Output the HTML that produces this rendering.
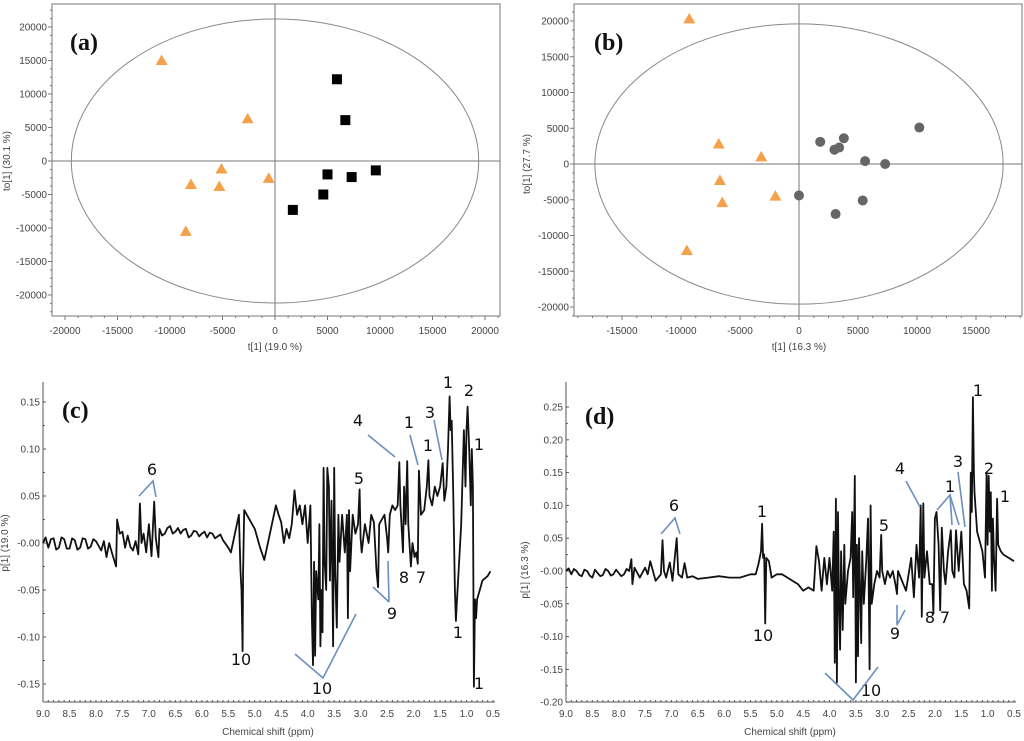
<!DOCTYPE html>
<html><head><meta charset="utf-8"><style>
html,body{margin:0;padding:0;background:#fff;}
svg{display:block;}
.tk{font-family:"Liberation Sans",sans-serif;font-size:10px;fill:#444;}
.ann{font-family:"DejaVu Sans","Liberation Sans",sans-serif;font-size:16px;fill:#111;}
.pl{font-family:"Liberation Serif",serif;font-size:24px;font-weight:bold;fill:#111;}
</style></head><body>
<svg id="fig" xmlns="http://www.w3.org/2000/svg" width="1024" height="741" viewBox="0 0 1024 741">
<g id="root"></g>
</svg>
<script>
// Panel a data
const aTriX=[-10800,-2600,-5100,-8000,-5300,-600,-8500];
const aTriY=[15000,6300,-1200,-3500,-3800,-2600,-10500];
const aSqX=[5900,6700,5000,7300,9600,4600,1700];
const aSqY=[12200,6100,-2000,-2400,-1400,-5000,-7300];
const aXTicks=[-20000,-15000,-10000,-5000,0,5000,10000,15000,20000];
const aYTicks=[20000,15000,10000,5000,0,-5000,-10000,-15000,-20000];
// Panel b data
const bTriX=[-9300,-6800,-3200,-6700,-6500,-2000,-9500];
const bTriY=[20300,2800,1000,-2300,-5400,-4500,-12100];
const bCirX=[1800,3000,3400,3800,10200,5600,7300,0,5400,3100];
const bCirY=[3100,2000,2300,3600,5100,400,0,-4400,-5100,-7000];
const bXTicks=[-15000,-10000,-5000,0,5000,10000,15000];
const bYTicks=[20000,15000,10000,5000,0,-5000,-10000,-15000,-20000];
// Panel c spectrum
const cPpm=[9.0,8.95,8.9,8.85,8.8,8.75,8.7,8.65,8.6,8.55,8.5,8.45,8.4,8.35,8.3,8.25,8.2,8.15,8.1,8.05,8.0,7.95,7.9,7.85,7.8,7.75,7.7,7.62,7.6,7.55,7.5,7.45,7.4,7.35,7.3,7.25,7.2,7.17,7.14,7.1,7.05,7.0,6.95,6.9,6.87,6.82,6.8,6.75,6.7,6.65,6.6,6.55,6.5,6.45,6.4,6.35,6.3,6.25,6.2,6.15,6.1,6.05,6.0,5.95,5.9,5.85,5.8,5.75,5.7,5.65,5.6,5.5,5.45,5.3,5.27,5.25,5.23,5.22,5.2,5.1,5.05,5.0,4.9,4.82,4.6,4.55,4.5,4.45,4.4,4.35,4.3,4.25,4.2,4.15,4.1,4.05,4.0,3.95,3.92,3.9,3.88,3.86,3.84,3.8,3.78,3.76,3.74,3.72,3.7,3.68,3.65,3.63,3.6,3.58,3.55,3.52,3.5,3.48,3.45,3.42,3.4,3.35,3.3,3.26,3.24,3.22,3.2,3.15,3.1,3.05,3.02,3.0,2.98,2.92,2.85,2.8,2.75,2.7,2.67,2.65,2.6,2.55,2.5,2.48,2.45,2.4,2.35,2.3,2.27,2.25,2.2,2.18,2.15,2.12,2.1,2.05,2.02,1.98,1.95,1.92,1.9,1.86,1.8,1.75,1.72,1.7,1.65,1.6,1.55,1.5,1.45,1.42,1.38,1.35,1.32,1.3,1.28,1.25,1.22,1.2,1.18,1.15,1.1,1.05,1.02,1.0,0.98,0.95,0.92,0.9,0.88,0.86,0.84,0.82,0.8,0.75,0.7,0.6,0.55];
const cVal=[0.0,0.006,-0.005,0.004,0.005,-0.007,-0.005,0.006,0.004,-0.006,-0.006,0.005,0.003,-0.007,-0.005,0.005,0.004,-0.006,-0.004,0.004,0.002,-0.003,-0.008,0.002,-0.015,0.0,-0.01,-0.025,0.025,0.01,0.012,-0.005,0.008,-0.004,-0.008,0.002,-0.012,0.042,0.0,0.01,-0.01,0.02,-0.014,0.044,0.005,-0.015,0.015,0.008,0.01,0.016,0.018,0.01,0.012,0.016,0.01,0.014,0.015,0.006,0.008,0.013,0.012,0.007,0.01,0.012,0.006,0.011,0.01,0.005,0.007,0.009,0.003,-0.005,-0.01,0.03,-0.03,-0.05,-0.115,-0.03,0.035,0.025,0.02,0.015,-0.005,-0.018,0.04,0.03,0.022,0.0,0.015,0.005,0.02,0.056,0.03,0.04,0.02,0.04,0.0,0.04,-0.08,-0.13,-0.02,-0.12,-0.03,-0.06,0.02,-0.11,-0.05,-0.095,0.08,-0.02,-0.05,0.08,0.06,-0.04,0.045,-0.11,0.08,-0.03,-0.09,0.03,-0.02,0.03,-0.01,0.03,-0.08,0.035,-0.03,0.03,0.01,0.02,0.057,0.005,-0.01,0.02,0.0,0.03,0.022,-0.03,-0.047,0.02,0.025,0.03,0.005,-0.01,0.03,0.04,0.035,0.04,0.086,0.04,-0.01,0.06,0.02,0.087,0.02,-0.025,0.0,-0.015,-0.01,-0.022,0.077,0.03,0.035,0.06,0.088,0.05,0.04,0.06,0.05,0.06,0.085,0.045,0.06,0.1,0.156,0.12,0.13,0.05,-0.05,-0.083,-0.06,-0.03,0.02,0.12,0.06,0.12,0.145,0.1,0.04,0.1,0.06,-0.153,-0.06,-0.08,-0.06,-0.05,-0.04,-0.035,-0.03];
// Panel d spectrum
const dPpm=[9.0,8.95,8.9,8.85,8.8,8.75,8.7,8.65,8.6,8.55,8.5,8.45,8.4,8.35,8.3,8.25,8.2,8.15,8.1,8.05,8.0,7.95,7.9,7.85,7.8,7.76,7.74,7.7,7.6,7.5,7.45,7.4,7.3,7.2,7.17,7.14,7.1,7.03,6.98,6.9,6.87,6.8,6.75,6.7,6.6,6.5,6.3,6.1,5.9,5.7,5.5,5.4,5.35,5.3,5.28,5.26,5.24,5.22,5.2,5.15,5.1,5.0,4.9,4.8,4.6,4.5,4.4,4.3,4.25,4.2,4.15,4.1,4.05,4.0,3.95,3.92,3.9,3.88,3.86,3.84,3.82,3.8,3.78,3.75,3.72,3.7,3.65,3.6,3.57,3.55,3.52,3.5,3.48,3.46,3.44,3.4,3.38,3.35,3.3,3.27,3.24,3.22,3.2,3.15,3.1,3.05,3.02,3.0,2.95,2.9,2.85,2.8,2.75,2.72,2.7,2.65,2.6,2.55,2.5,2.45,2.4,2.35,2.3,2.27,2.25,2.22,2.2,2.15,2.1,2.05,2.03,2.0,1.97,1.93,1.9,1.87,1.83,1.8,1.75,1.7,1.67,1.63,1.6,1.55,1.5,1.45,1.4,1.35,1.32,1.3,1.28,1.26,1.25,1.2,1.1,1.05,1.02,1.0,0.98,0.96,0.94,0.92,0.9,0.88,0.85,0.82,0.8,0.75,0.7,0.6,0.5];
const dVal=[0.0,0.004,-0.005,0.003,0.0,-0.006,-0.008,0.002,0.0,-0.007,-0.01,0.002,-0.003,-0.008,-0.006,0.003,0.0,-0.007,-0.005,0.002,-0.003,-0.008,-0.005,0.003,0.0,0.018,-0.02,0.005,-0.01,0.005,-0.005,0.015,-0.015,-0.005,0.047,0.0,-0.01,0.013,-0.015,0.05,-0.005,-0.01,0.012,-0.01,-0.008,-0.012,-0.01,-0.008,-0.01,-0.01,-0.005,-0.005,0.01,0.03,0.072,0.02,0.025,-0.08,0.02,0.015,-0.01,-0.005,-0.005,-0.01,-0.02,-0.03,-0.025,-0.03,0.038,0.015,-0.03,0.02,-0.02,0.02,-0.03,0.06,-0.14,0.11,-0.17,0.09,-0.05,-0.12,0.03,-0.09,0.04,-0.05,0.0,0.02,0.09,-0.04,0.145,-0.17,0.04,-0.13,0.05,-0.11,0.03,-0.05,0.02,0.08,-0.15,0.1,-0.05,-0.02,0.0,-0.01,0.055,0.0,-0.02,0.0,-0.01,0.0,-0.02,-0.035,0.0,-0.01,-0.02,-0.03,-0.005,0.02,-0.04,0.04,-0.01,0.1,-0.07,0.103,-0.01,0.03,-0.02,-0.02,-0.065,0.08,0.09,0.04,-0.06,0.066,0.0,-0.02,0.03,0.062,0.0,-0.01,0.062,0.0,0.06,-0.02,-0.03,-0.057,0.15,0.09,0.265,0.15,0.12,0.06,0.03,-0.01,0.15,0.04,0.145,0.06,0.12,-0.03,0.08,0.02,-0.03,0.11,0.04,0.03,0.025,0.02,0.015];
const ppmTicks=[9.0,8.5,8.0,7.5,7.0,6.5,6.0,5.5,5.0,4.5,4.0,3.5,3.0,2.5,2.0,1.5,1.0,0.5];
const cYTicks=[0.15,0.10,0.05,0,-0.05,-0.10,-0.15];
const dYTicks=[0.25,0.20,0.15,0.10,0.05,0,-0.05,-0.10,-0.15,-0.20];

const NS='http://www.w3.org/2000/svg';
const root=document.getElementById('root');
function mk(tag,attrs,parent,txt){const e=document.createElementNS(NS,tag);for(const k in attrs)e.setAttribute(k,attrs[k]);if(txt!==undefined)e.textContent=txt;(parent||root).appendChild(e);return e;}
function lin(d0,d1,r0,r1){return v=>r0+(v-d0)/(d1-d0)*(r1-r0);}
function fmtY(v,dec){if(v===0)return '-0.00';return v.toFixed(dec);}

function scatter(cfg){
  const g=mk('g',{});
  
  
  const X=lin(0,cfg.xU,cfg.x0,cfg.x1), Y=lin(0,cfg.yU,cfg.y0,cfg.y1);
  const f=mk('rect',{x:cfg.L,y:cfg.T,width:cfg.R-cfg.L,height:cfg.B-cfg.T,fill:'none',stroke:'#777','stroke-width':1},g);
  
  for(let v=-25000;v<=25000;v+=1250){const px=X(v);if(px>cfg.L&&px<cfg.R)mk('line',{x1:px,x2:px,y1:cfg.B,y2:cfg.B+(v%5000===0?4:2),stroke:'#777'},g);}
  for(let v=-25000;v<=25000;v+=1250){const py=Y(v);if(py>cfg.T&&py<cfg.B)mk('line',{x1:cfg.L,x2:cfg.L-(v%5000===0?4:2),y1:py,y2:py,stroke:'#777'},g);}
  cfg.xt.forEach(v=>{const t=mk('text',{x:X(v),y:cfg.B+18,'text-anchor':'middle',class:'tk'},g,String(v));});
  cfg.yt.forEach(v=>{const t=mk('text',{x:cfg.L-5,y:Y(v)+3.5,'text-anchor':'end',class:'tk'},g,String(v));});
  mk('line',{x1:X(0),x2:X(0),y1:cfg.T,y2:cfg.B,stroke:'#777'},g);
  mk('line',{x1:cfg.L,x2:cfg.R,y1:Y(0),y2:Y(0),stroke:'#777'},g);
  const el=mk('ellipse',{cx:X(0),cy:Y(0),rx:Math.abs(X(cfg.ex)-X(0)),ry:Math.abs(Y(cfg.ey)-Y(0)),fill:'none',stroke:'#888','stroke-width':1},g);
  
  cfg.tx.forEach((v,i)=>{const px=X(v),py=Y(cfg.ty[i]);const p=mk('polygon',{points:`${px},${py-6} ${px-6},${py+4.5} ${px+6},${py+4.5}`,fill:'#f5a04a'},g);});
  if(cfg.sx)cfg.sx.forEach((v,i)=>{const px=X(v),py=Y(cfg.sy[i]);const p=mk('rect',{x:px-5,y:py-5,width:10,height:10,fill:'#000'},g);});
  if(cfg.cx)cfg.cx.forEach((v,i)=>{const px=X(v),py=Y(cfg.cy[i]);const p=mk('circle',{cx:px,cy:py,r:5,fill:'#666'},g);});
  const xt=mk('text',{x:X(0),y:cfg.B+34,'text-anchor':'middle',class:'tk'},g,cfg.xl);
  const yt=mk('text',{x:0,y:0,'text-anchor':'middle',class:'tk',transform:`translate(${cfg.ylx},${Y(0)}) rotate(-90)`},g,cfg.yl);
  const pl=mk('text',{x:cfg.plx,y:cfg.ply,class:'pl'},g,cfg.pl);
}
scatter({name:'panel-a-scores',L:52,T:4,R:500,B:316,x0:275,xU:20000,x1:485,y0:161,yU:20000,y1:27,ex:19400,ey:21200,
  xt:aXTicks,yt:aYTicks,tx:aTriX,ty:aTriY,sx:aSqX,sy:aSqY,xl:'t[1] (19.0 %)',yl:'to[1] (30.1 %)',ylx:10,pl:'(a)',plx:70,ply:50});
scatter({name:'panel-b-scores',L:574,T:4,R:1022,B:316,x0:799,xU:15000,x1:976,y0:164,yU:20000,y1:21,ex:17300,ey:19600,
  xt:bXTicks,yt:bYTicks,tx:bTriX,ty:bTriY,cx:bCirX,cy:bCirY,xl:'t[1] (16.3 %)',yl:'to[1] (27.7 %)',ylx:530,pl:'(b)',plx:594,ply:50});

function spectrum(cfg){
  const g=mk('g',{});
  
  
  const X=lin(9,0.5,cfg.x0,cfg.x1), Y=lin(0,cfg.yU,cfg.y0,cfg.y1);
  mk('line',{x1:cfg.L,x2:cfg.L,y1:cfg.T,y2:cfg.B,stroke:'#555'},g);
  mk('line',{x1:cfg.L,x2:cfg.x1+2,y1:cfg.B,y2:cfg.B,stroke:'#555'},g);
  for(let v=9;v>=0.49;v-=0.1){const px=X(v);mk('line',{x1:px,x2:px,y1:cfg.B,y2:cfg.B-2,stroke:'#555'},g);}
  ppmTicks.forEach(v=>{const t=mk('text',{x:X(v),y:cfg.B+15,'text-anchor':'middle',class:'tk'},g,v.toFixed(1));});
  cfg.yt.forEach(v=>{const py=Y(v);mk('line',{x1:cfg.L,x2:cfg.L+3,y1:py,y2:py,stroke:'#555'},g);const t=mk('text',{x:cfg.L-3,y:py+3.5,'text-anchor':'end',class:'tk'},g,fmtY(v,2));});
  for(let i=0;i<cfg.yt.length-1;i++){const py=(Y(cfg.yt[i])+Y(cfg.yt[i+1]))/2;mk('line',{x1:cfg.L,x2:cfg.L+2,y1:py,y2:py,stroke:'#555'},g);}
  const d=cfg.ppm.map((p,i)=>(i?'L':'M')+X(p).toFixed(1)+','+Y(cfg.val[i]).toFixed(1)).join('');
  const ln=mk('path',{d:d,fill:'none',stroke:'#111','stroke-width':1.8,'stroke-linejoin':'round'},g);
  
  const xt=mk('text',{x:cfg.xtx,y:cfg.B+33,'text-anchor':'middle',class:'tk'},g,'Chemical shift (ppm)');
  const yt=mk('text',{x:0,y:0,'text-anchor':'middle',class:'tk',transform:`translate(${cfg.ylx},${cfg.yly}) rotate(-90)`},g,cfg.yl);
  const pl=mk('text',{x:cfg.plx,y:cfg.ply,class:'pl'},g,cfg.pl);
  cfg.ann.forEach(a=>{const t=mk('text',{x:a[1],y:a[2],'text-anchor':'middle',class:'ann'},g,a[0]);});
  cfg.lines.forEach(p=>{const l=mk('polyline',{points:p,fill:'none',stroke:'#6b8fbf','stroke-width':1.6},g);});
}
spectrum({name:'panel-c-loadings',L:43,T:382,B:702,x0:43,x1:493,y0:543,yU:0.15,y1:402,yt:cYTicks,xtx:268,yl:'p[1] (19.0 %)',ylx:8,yly:543,pl:'(c)',plx:62,ply:418,ppm:cPpm,val:cVal,
  ann:[['6',152,475],['10',241,665],['10',322,694],['5',359,484],['4',358,426],['1',409,428],['1',428,451],['3',430,418],['1',448,388],['2',469,396],['1',479,450],['1',458,638],['1',479,689],['9',392,619],['8',404,583],['7',421,583]],
  lines:['139,496 153,481 156,497','295,654 323,678 356,614','368,435 395,457','410,435 418,465','434,420 442,460','388,561 389,602','373,587 389,602']});
spectrum({name:'panel-d-loadings',L:566,T:382,B:702,x0:566,x1:1014,y0:571,yU:0.25,y1:407,yt:dYTicks,xtx:790,yl:'p[1] (16.3 %)',ylx:528,yly:570,pl:'(d)',plx:585,ply:424,ppm:dPpm,val:dVal,
  ann:[['6',674,511],['1',762,517],['10',763,641],['1',978,396],['2',989,474],['1',1005,502],['3',958,467],['4',900,474],['1',950,492],['5',884,531],['8',930,623],['7',945,623],['9',895,639],['10',871,696]],
  lines:['661,534 675,518 680,534','958,472 965,527','906,481 920,507','937,510 950,495 952,525','950,495 959,525','897,605 897,625 905,610','825,673 853,700 878,667']});
</script>
</body></html>
